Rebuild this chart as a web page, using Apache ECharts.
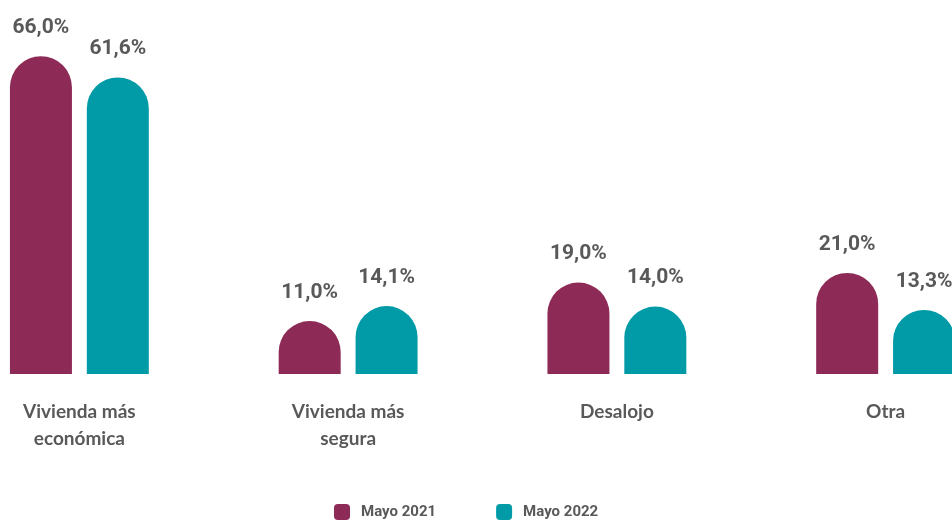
<!DOCTYPE html>
<html>
<head>
<meta charset="utf-8">
<script src="https://cdn.jsdelivr.net/npm/echarts@6/dist/echarts.min.js"></script>
<style>
  html, body { margin: 0; padding: 0; background: #fff; }
  #chart { width: 952px; height: 520px; }
</style>
</head>
<body>
<div id="chart"></div>
<script>
const categories = ["Vivienda más\neconómica", "Vivienda más\nsegura", "Desalojo", "Otra"];
const seriesNames = ["Mayo 2021", "Mayo 2022"];
const mayo2021 = [66.0, 11.0, 19.0, 21.0];
const mayo2022 = [61.6, 14.1, 14.0, 13.3];

const colors = ["#8e2a56", "#009ba6"];
const textColor = "#595959";
const numFont = "Roboto";
const labelFont = "Lato";

const chart = echarts.init(document.getElementById("chart"));
const fmt = (p) => p.value.toFixed(1).replace(".", ",") + "%";
chart.setOption({
  animation: false,
  color: colors,
  grid: { left: -55, top: 37, width: 1075, height: 337, outerBoundsMode: "none", containLabel: false },
  legend: {
    top: 499,
    left: 329,
    icon: "roundRect",
    itemWidth: 16,
    itemHeight: 16,
    itemGap: 60,
    textStyle: { color: textColor, fontFamily: numFont, fontWeight: "bold", fontSize: 15, padding: [0, 0, 0, 6] },
    data: seriesNames
  },
  xAxis: {
    type: "category",
    data: categories,
    axisLine: { show: false },
    axisTick: { show: false },
    axisLabel: {
      margin: 24,
      color: textColor,
      fontFamily: labelFont,
      fontWeight: "bold",
      fontSize: 19,
      lineHeight: 27
    }
  },
  yAxis: { type: "value", min: 0, max: 70, show: false, splitLine: { show: false } },
  series: [mayo2021, mayo2022].map((d, i) => ({
    name: seriesNames[i],
    type: "bar",
    data: d,
    barWidth: 62,
    barGap: "24%",
    itemStyle: { color: colors[i], borderRadius: [31, 31, 0, 0] },
    label: {
      show: true,
      position: "top",
      distance: 18,
      formatter: fmt,
      color: textColor,
      fontFamily: numFont,
      fontWeight: "bold",
      fontSize: 21
    }
  }))
});
</script>
</body>
</html>
